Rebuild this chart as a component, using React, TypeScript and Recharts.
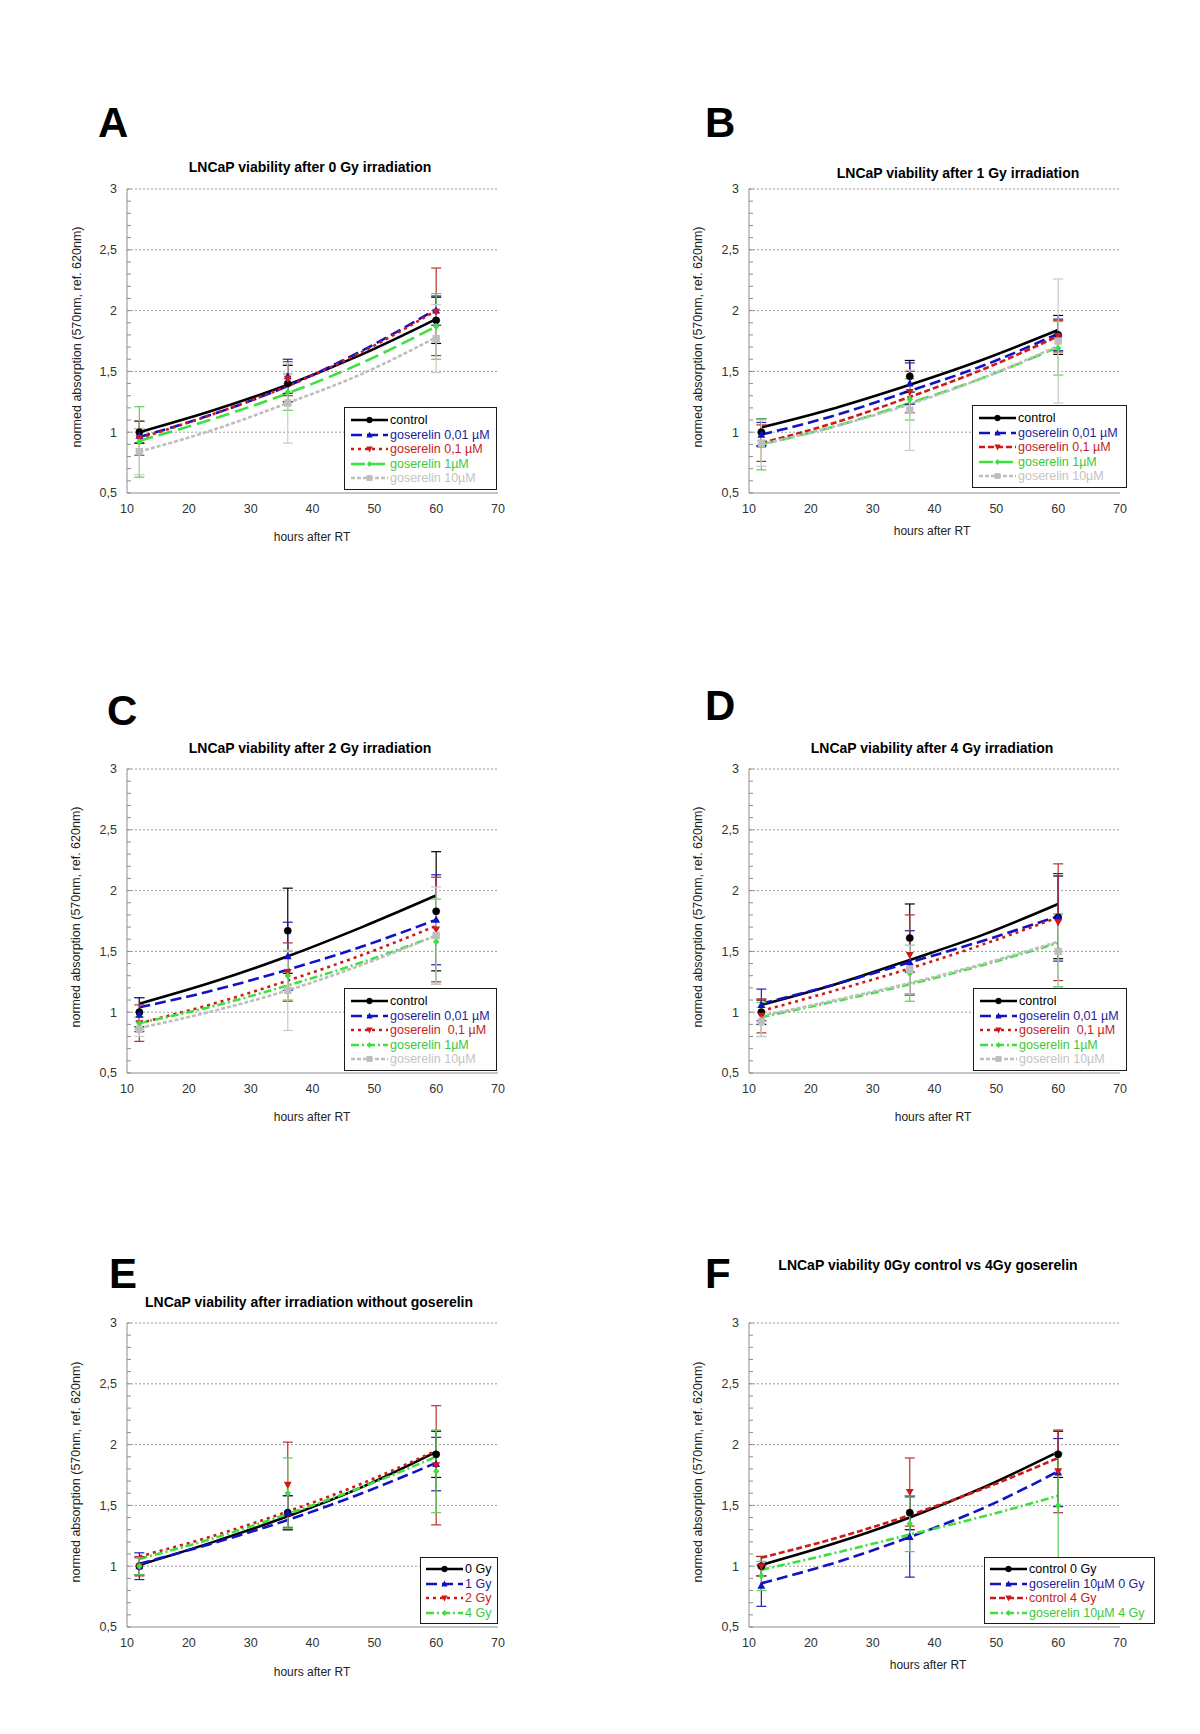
import React from 'react';
import { ComposedChart, Line, Scatter, XAxis, YAxis, ErrorBar, ReferenceLine, Legend } from 'recharts';

// ---------- shared axis data ----------
const HOURS = [12, 36, 60];
const TREND_HOURS = [12, 24, 36, 48, 60];
const X_TICKS = [10, 20, 30, 40, 50, 60, 70];
const Y_TICKS = [0.5, 0.6, 0.7, 0.8, 0.9, 1, 1.1, 1.2, 1.3, 1.4, 1.5, 1.6, 1.7, 1.8, 1.9, 2, 2.1, 2.2, 2.3, 2.4, 2.5, 2.6, 2.7, 2.8, 2.9, 3];
const GRID_LEVELS = [1, 1.5, 2, 2.5, 3];
const X_LABEL = 'hours after RT';
const Y_LABEL = 'normed absorption (570nm, ref. 620nm)';

// ---------- panel A : 0 Gy ----------
const A_CONTROL = [1.0, 1.4, 1.92];
const A_CONTROL_ERR = [0.09, 0.15, 0.19];
const A_CONTROL_TREND = [1.0, 1.18, 1.39, 1.64, 1.93];
const A_G001 = [0.97, 1.46, 2.0];
const A_G001_ERR = [0.06, 0.14, 0.12];
const A_G001_TREND = [0.96, 1.15, 1.38, 1.67, 2.01];
const A_G01 = [0.95, 1.44, 1.99];
const A_G01_ERR = [0.14, 0.14, 0.36];
const A_G01_TREND = [0.95, 1.15, 1.38, 1.66, 2.0];
const A_G1 = [0.92, 1.33, 1.87];
const A_G1_ERR = [0.29, 0.15, 0.27];
const A_G1_TREND = [0.93, 1.11, 1.32, 1.57, 1.87];
const A_G10 = [0.84, 1.24, 1.77];
const A_G10_ERR = [0.19, 0.33, 0.28];
const A_G10_TREND = [0.84, 1.02, 1.24, 1.48, 1.78];

// ---------- panel B : 1 Gy ----------
const B_CONTROL = [1.0, 1.46, 1.8];
const B_CONTROL_ERR = [0.11, 0.13, 0.16];
const B_CONTROL_TREND = [1.04, 1.2, 1.39, 1.6, 1.84];
const B_G001 = [0.98, 1.4, 1.8];
const B_G001_ERR = [0.1, 0.17, 0.13];
const B_G001_TREND = [0.98, 1.14, 1.34, 1.55, 1.81];
const B_G01 = [0.91, 1.33, 1.79];
const B_G01_ERR = [0.15, 0.17, 0.13];
const B_G01_TREND = [0.91, 1.08, 1.29, 1.52, 1.79];
const B_G1 = [0.9, 1.27, 1.69];
const B_G1_ERR = [0.21, 0.17, 0.22];
const B_G1_TREND = [0.9, 1.05, 1.24, 1.45, 1.7];
const B_G10 = [0.91, 1.18, 1.75];
const B_G10_ERR = [0.19, 0.33, 0.51];
const B_G10_TREND = [0.9, 1.05, 1.23, 1.45, 1.71];

// ---------- panel C : 2 Gy ----------
const C_CONTROL = [1.0, 1.67, 1.83];
const C_CONTROL_ERR = [0.12, 0.35, 0.49];
const C_CONTROL_TREND = [1.07, 1.25, 1.46, 1.7, 1.96];
const C_G001 = [0.98, 1.46, 1.76];
const C_G001_ERR = [0.14, 0.28, 0.37];
const C_G001_TREND = [1.04, 1.18, 1.35, 1.54, 1.76];
const C_G01 = [0.91, 1.33, 1.68];
const C_G01_ERR = [0.15, 0.24, 0.43];
const C_G01_TREND = [0.91, 1.07, 1.26, 1.47, 1.71];
const C_G1 = [0.91, 1.3, 1.58];
const C_G1_ERR = [0.05, 0.2, 0.35];
const C_G1_TREND = [0.91, 1.05, 1.22, 1.41, 1.63];
const C_G10 = [0.86, 1.18, 1.63];
const C_G10_ERR = [0.06, 0.33, 0.4];
const C_G10_TREND = [0.87, 1.01, 1.18, 1.39, 1.63];

// ---------- panel D : 4 Gy ----------
const D_CONTROL = [1.0, 1.61, 1.78];
const D_CONTROL_ERR = [0.1, 0.28, 0.34];
const D_CONTROL_TREND = [1.06, 1.23, 1.43, 1.64, 1.89];
const D_G001 = [1.06, 1.41, 1.78];
const D_G001_ERR = [0.13, 0.26, 0.36];
const D_G001_TREND = [1.07, 1.23, 1.41, 1.59, 1.79];
const D_G01 = [0.97, 1.47, 1.74];
const D_G01_ERR = [0.14, 0.33, 0.48];
const D_G01_TREND = [1.01, 1.18, 1.36, 1.56, 1.78];
const D_G1 = [0.94, 1.32, 1.51];
const D_G1_ERR = [0.14, 0.23, 0.3];
const D_G1_TREND = [0.96, 1.09, 1.23, 1.39, 1.57];
const D_G10 = [0.92, 1.35, 1.5];
const D_G10_ERR = [0.12, 0.2, 0.3];
const D_G10_TREND = [0.97, 1.1, 1.24, 1.4, 1.58];

// ---------- panel E : without goserelin ----------
const E_0GY = [1.0, 1.44, 1.92];
const E_0GY_ERR = [0.07, 0.14, 0.19];
const E_0GY_TREND = [1.01, 1.2, 1.41, 1.65, 1.94];
const E_1GY = [1.0, 1.44, 1.84];
const E_1GY_ERR = [0.11, 0.14, 0.22];
const E_1GY_TREND = [1.02, 1.19, 1.38, 1.6, 1.85];
const E_2GY = [1.0, 1.67, 1.83];
const E_2GY_ERR = [0.08, 0.35, 0.49];
const E_2GY_TREND = [1.08, 1.25, 1.45, 1.68, 1.95];
const E_4GY = [1.0, 1.6, 1.78];
const E_4GY_ERR = [0.07, 0.29, 0.34];
const E_4GY_TREND = [1.06, 1.23, 1.43, 1.65, 1.9];

// ---------- panel F : 0Gy control vs 4Gy goserelin ----------
const F_CTRL0 = [1.0, 1.44, 1.92];
const F_CTRL0_ERR = [0.08, 0.14, 0.19];
const F_CTRL0_TREND = [1.01, 1.19, 1.4, 1.65, 1.94];
const F_G10_0 = [0.84, 1.24, 1.77];
const F_G10_0_ERR = [0.17, 0.33, 0.28];
const F_G10_0_TREND = [0.86, 1.03, 1.24, 1.48, 1.78];
const F_CTRL4 = [1.0, 1.61, 1.78];
const F_CTRL4_ERR = [0.08, 0.28, 0.34];
const F_CTRL4_TREND = [1.07, 1.23, 1.42, 1.64, 1.89];
const F_G10_4 = [0.92, 1.35, 1.5];
const F_G10_4_ERR = [0.12, 0.23, 0.43];
const F_G10_4_TREND = [0.97, 1.11, 1.26, 1.41, 1.58];

// ---------- styles ----------
const FONT = '"Liberation Sans", Arial, Helvetica, sans-serif';
const AXIS_COLOR = '#8c8c8c';

type Style = { color: string; text: string; err: string; dash?: string; marker: string };
const ST_BLACK: Style = { color: '#000000', text: '#000000', err: '#000000', marker: 'circle' };
const ST_BLUE: Style = { color: '#1212C4', text: '#1E1E96', err: '#2020B0', dash: '11 5', marker: 'up' };
const ST_RED_DOT: Style = { color: '#D01818', text: '#C42222', err: '#B83030', dash: '3 4', marker: 'down' };
const ST_RED_DASH: Style = { color: '#D01818', text: '#C42222', err: '#B83030', dash: '6 3', marker: 'down' };
const ST_GREEN_LONG: Style = { color: '#3EE03E', text: '#3CC83C', err: '#5ad05a', dash: '14 6', marker: 'diamond' };
const ST_GREEN_DD: Style = { color: '#3EE03E', text: '#3CC83C', err: '#5ad05a', dash: '8 3 2 3', marker: 'diamond' };
const ST_GREY: Style = { color: '#BEBEBE', text: '#C4C4C4', err: '#CACACA', dash: '4 2', marker: 'square' };

type Series = Style & { name: string; means: number[]; errs: number[]; trend: number[] };
const ser = (name: string, st: Style, means: number[], errs: number[], trend: number[]): Series => ({ ...st, name, means, errs, trend });

const PANELS = [
  {
    letter: 'A', title: 'LNCaP viability after 0 Gy irradiation', plotLeft: 127, plotTop: 189,
    letterXY: [98, 137], titleXY: [310, 172], xLabelXY: [312, 541], yLabelXY: [77, 337],
    legend: { left: 344, top: 407, width: 153 },
    series: [
      ser('control', ST_BLACK, A_CONTROL, A_CONTROL_ERR, A_CONTROL_TREND),
      ser('goserelin 0,01 µM', ST_BLUE, A_G001, A_G001_ERR, A_G001_TREND),
      ser('goserelin 0,1 µM', ST_RED_DOT, A_G01, A_G01_ERR, A_G01_TREND),
      ser('goserelin 1µM', ST_GREEN_LONG, A_G1, A_G1_ERR, A_G1_TREND),
      ser('goserelin 10µM', ST_GREY, A_G10, A_G10_ERR, A_G10_TREND),
    ],
  },
  {
    letter: 'B', title: 'LNCaP viability after 1 Gy irradiation', plotLeft: 749, plotTop: 189,
    letterXY: [705, 137], titleXY: [958, 178], xLabelXY: [932, 535], yLabelXY: [698, 337],
    legend: { left: 972, top: 405, width: 155 },
    series: [
      ser('control', ST_BLACK, B_CONTROL, B_CONTROL_ERR, B_CONTROL_TREND),
      ser('goserelin 0,01 µM', ST_BLUE, B_G001, B_G001_ERR, B_G001_TREND),
      ser('goserelin 0,1 µM', ST_RED_DASH, B_G01, B_G01_ERR, B_G01_TREND),
      ser('goserelin 1µM', ST_GREEN_LONG, B_G1, B_G1_ERR, B_G1_TREND),
      ser('goserelin 10µM', ST_GREY, B_G10, B_G10_ERR, B_G10_TREND),
    ],
  },
  {
    letter: 'C', title: 'LNCaP viability after 2 Gy irradiation', plotLeft: 127, plotTop: 769,
    letterXY: [107, 725], titleXY: [310, 753], xLabelXY: [312, 1121], yLabelXY: [76, 917],
    legend: { left: 344, top: 988, width: 153 },
    series: [
      ser('control', ST_BLACK, C_CONTROL, C_CONTROL_ERR, C_CONTROL_TREND),
      ser('goserelin 0,01 µM', ST_BLUE, C_G001, C_G001_ERR, C_G001_TREND),
      ser('goserelin  0,1 µM', ST_RED_DOT, C_G01, C_G01_ERR, C_G01_TREND),
      ser('goserelin 1µM', ST_GREEN_DD, C_G1, C_G1_ERR, C_G1_TREND),
      ser('goserelin 10µM', ST_GREY, C_G10, C_G10_ERR, C_G10_TREND),
    ],
  },
  {
    letter: 'D', title: 'LNCaP viability after 4 Gy irradiation', plotLeft: 749, plotTop: 769,
    letterXY: [705, 720], titleXY: [932, 753], xLabelXY: [933, 1121], yLabelXY: [698, 917],
    legend: { left: 973, top: 988, width: 154 },
    series: [
      ser('control', ST_BLACK, D_CONTROL, D_CONTROL_ERR, D_CONTROL_TREND),
      ser('goserelin 0,01 µM', ST_BLUE, D_G001, D_G001_ERR, D_G001_TREND),
      ser('goserelin  0,1 µM', ST_RED_DOT, D_G01, D_G01_ERR, D_G01_TREND),
      ser('goserelin 1µM', ST_GREEN_DD, D_G1, D_G1_ERR, D_G1_TREND),
      ser('goserelin 10µM', ST_GREY, D_G10, D_G10_ERR, D_G10_TREND),
    ],
  },
  {
    letter: 'E', title: 'LNCaP viability after irradiation without goserelin', plotLeft: 127, plotTop: 1323,
    letterXY: [109, 1288], titleXY: [309, 1307], xLabelXY: [312, 1676], yLabelXY: [76, 1472],
    legend: { left: 420, top: 1557, width: 78 },
    series: [
      ser('0 Gy', ST_BLACK, E_0GY, E_0GY_ERR, E_0GY_TREND),
      ser('1 Gy', ST_BLUE, E_1GY, E_1GY_ERR, E_1GY_TREND),
      ser('2 Gy', ST_RED_DOT, E_2GY, E_2GY_ERR, E_2GY_TREND),
      ser('4 Gy', ST_GREEN_DD, E_4GY, E_4GY_ERR, E_4GY_TREND),
    ],
  },
  {
    letter: 'F', title: 'LNCaP viability 0Gy control vs 4Gy goserelin', plotLeft: 749, plotTop: 1323,
    letterXY: [705, 1288], titleXY: [928, 1270], xLabelXY: [928, 1669], yLabelXY: [698, 1472],
    legend: { left: 984, top: 1557, width: 171 },
    series: [
      ser('control 0 Gy', ST_BLACK, F_CTRL0, F_CTRL0_ERR, F_CTRL0_TREND),
      ser('goserelin 10µM 0 Gy', ST_BLUE, F_G10_0, F_G10_0_ERR, F_G10_0_TREND),
      ser('control 4 Gy', ST_RED_DASH, F_CTRL4, F_CTRL4_ERR, F_CTRL4_TREND),
      ser('goserelin 10µM 4 Gy', ST_GREEN_DD, F_G10_4, F_G10_4_ERR, F_G10_4_TREND),
    ],
  },
];

// ---------- drawing helpers ----------
function markerEl(kind: string, cx: number, cy: number, color: string, s = 1) {
  switch (kind) {
    case 'circle':
      return <circle cx={cx} cy={cy} r={3.6 * s} fill={color} stroke={color} strokeWidth={0.5} />;
    case 'up':
      return <polygon points={`${cx},${cy - 4.3 * s} ${cx + 3.9 * s},${cy + 3 * s} ${cx - 3.9 * s},${cy + 3 * s}`} fill={color} />;
    case 'down':
      return <polygon points={`${cx},${cy + 4.3 * s} ${cx + 3.9 * s},${cy - 3 * s} ${cx - 3.9 * s},${cy - 3 * s}`} fill={color} />;
    case 'diamond':
      return <polygon points={`${cx},${cy - 3.6 * s} ${cx + 3.2 * s},${cy} ${cx},${cy + 3.6 * s} ${cx - 3.2 * s},${cy}`} fill={color} />;
    default:
      return <rect x={cx - 3.7 * s} y={cy - 3.7 * s} width={7.4 * s} height={7.4 * s} fill={color} />;
  }
}

const fmtTick = (v: number) => String(Math.round(v * 10) / 10).replace('.', ',');

const YTick = (props: any) => {
  const { x, y, payload } = props;
  const v = Number(payload.value);
  const major = Math.abs(v * 2 - Math.round(v * 2)) < 1e-6;
  const axisX = x + 10;
  return (
    <g>
      <line x1={axisX} x2={axisX + 4} y1={y} y2={y} stroke={AXIS_COLOR} strokeWidth={1} />
      {major && (
        <text x={x} y={y} dy="0.35em" textAnchor="end" fill="#333" fontSize={12.5} fontFamily={FONT}>
          {fmtTick(v)}
        </text>
      )}
    </g>
  );
};

const LegendBox = ({ series, width }: { series: Series[]; width: number }) => (
  <div
    style={{
      border: '1.5px solid #1a1a1a',
      background: '#fff',
      padding: series.length === 5 ? '5px 0 3px 6px' : '4px 0 3px 5px',
      width,
      boxSizing: 'border-box',
      fontFamily: FONT,
      fontSize: 12.5,
      lineHeight: '14.5px',
    }}
  >
    {series.map((s) => (
      <div key={s.name} style={{ display: 'flex', alignItems: 'center', height: 14.5 }}>
        <svg width={37} height={12} style={{ flex: 'none' }}>
          <line x1={0} x2={37} y1={6} y2={6} stroke={s.color} strokeWidth={2.5} strokeDasharray={s.dash} />
          {markerEl(s.marker, 18.5, 6, s.color, 0.8)}
        </svg>
        <span style={{ marginLeft: 2, color: s.text, whiteSpace: 'pre' }}>{s.name}</span>
      </div>
    ))}
  </div>
);

const CW = 441;
const CH = 344;

function Panel({ cfg }: { cfg: (typeof PANELS)[number] }) {
  const chartLeft = cfg.plotLeft - 60;
  const chartTop = cfg.plotTop - 10;
  return (
    <div style={{ position: 'absolute', left: chartLeft, top: chartTop, width: CW, height: CH }}>
      <ComposedChart width={CW} height={CH} margin={{ top: 10, right: 10, bottom: 5, left: 10 }}>
        <XAxis
          type="number"
          dataKey="x"
          domain={[10, 70]}
          ticks={X_TICKS}
          interval={0}
          allowDataOverflow
          tickLine={false}
          tickSize={0}
          tickMargin={11}
          height={25}
          stroke={AXIS_COLOR}
          tick={{ fill: '#333', fontSize: 12.5, fontFamily: FONT }}
        />
        <YAxis
          type="number"
          dataKey="y"
          domain={[0.5, 3]}
          ticks={Y_TICKS}
          interval={0}
          allowDataOverflow
          tickLine={false}
          tickSize={0}
          tickMargin={10}
          width={50}
          stroke={AXIS_COLOR}
          tick={<YTick />}
        />
        {GRID_LEVELS.map((v) => (
          <ReferenceLine key={v} y={v} stroke="#9c9c9c" strokeDasharray="2 2" strokeWidth={1} />
        ))}
        {cfg.series.map((s) => (
          <Line
            key={'l' + s.name}
            data={TREND_HOURS.map((x, i) => ({ x, y: s.trend[i] }))}
            dataKey="y"
            type="monotone"
            stroke={s.color}
            strokeWidth={2.6}
            strokeDasharray={s.dash}
            dot={false}
            activeDot={false}
            isAnimationActive={false}
            legendType="none"
          />
        ))}
        {cfg.series.map((s) => (
          <Scatter
            key={'s' + s.name}
            data={HOURS.map((x, i) => ({ x, y: s.means[i], e: s.errs[i] }))}
            dataKey="y"
            fill={s.color}
            isAnimationActive={false}
            shape={(p: any) => markerEl(s.marker, p.cx, p.cy, s.color)}
          >
            <ErrorBar dataKey="e" direction="y" width={5} stroke={s.err} strokeWidth={1.2} isAnimationActive={false} />
          </Scatter>
        ))}
        <Legend
          layout="vertical"
          align="center"
          verticalAlign="middle"
          wrapperStyle={{
            left: cfg.legend.left - chartLeft,
            top: cfg.legend.top - chartTop,
            width: cfg.legend.width,
            height: 'auto',
            right: 'auto',
            bottom: 'auto',
          }}
          content={() => <LegendBox series={cfg.series} width={cfg.legend.width} />}
        />
      </ComposedChart>
    </div>
  );
}

export default function App() {
  return (
    <div style={{ position: 'absolute', left: 0, top: 0, width: 1200, height: 1734, background: '#fff', overflow: 'hidden' }}>
      {PANELS.map((p) => (
        <Panel key={p.letter} cfg={p} />
      ))}
      <svg width={1200} height={1734} style={{ position: 'absolute', left: 0, top: 0, pointerEvents: 'none' }}>
        {PANELS.map((p) => (
          <g key={'t' + p.letter} fontFamily={FONT}>
            <text x={p.letterXY[0]} y={p.letterXY[1]} fontSize={42} fontWeight="bold" fill="#000">
              {p.letter}
            </text>
            <text x={p.titleXY[0]} y={p.titleXY[1]} fontSize={14} fontWeight="bold" textAnchor="middle" fill="#000">
              {p.title}
            </text>
            <text x={p.xLabelXY[0]} y={p.xLabelXY[1]} fontSize={12} textAnchor="middle" fill="#222">
              {X_LABEL}
            </text>
            <text
              transform={`translate(${p.yLabelXY[0]},${p.yLabelXY[1]}) rotate(-90)`}
              fontSize={12.5}
              textAnchor="middle"
              dominantBaseline="central"
              fill="#222"
            >
              {Y_LABEL}
            </text>
          </g>
        ))}
      </svg>
    </div>
  );
}
